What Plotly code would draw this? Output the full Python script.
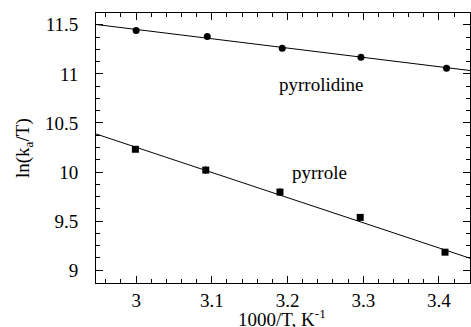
import plotly.graph_objects as go

# Data
pyrrolidine_x = [3.000, 3.094, 3.193, 3.297, 3.410]
pyrrolidine_y = [11.442, 11.381, 11.262, 11.170, 11.058]
pyrrolidine_err = [0.012, 0.012, 0.025, 0.025, 0.012]

pyrrole_x = [2.999, 3.092, 3.190, 3.296, 3.408]
pyrrole_y = [10.232, 10.020, 9.796, 9.538, 9.184]
pyrrole_err = [0.015, 0.04, 0.04, 0.015, 0.012]

fit_x = [2.947, 3.441]
pyrrolidine_fit_y = [11.503, 11.034]
pyrrole_fit_y = [10.388, 9.122]

x_ticks = [3.0, 3.1, 3.2, 3.3, 3.4]
x_ticklabels = ["3", "3.1", "3.2", "3.3", "3.4"]
y_ticks = [9, 9.5, 10, 10.5, 11, 11.5]
y_ticklabels = ["9", "9.5", "10", "10.5", "11", "11.5"]

FONT = "Liberation Serif"

fig = go.Figure()
fig.add_trace(go.Scatter(x=fit_x, y=pyrrolidine_fit_y, mode="lines",
                         line=dict(color="black", width=1), showlegend=False))
fig.add_trace(go.Scatter(x=fit_x, y=pyrrole_fit_y, mode="lines",
                         line=dict(color="black", width=1), showlegend=False))
fig.add_trace(go.Scatter(x=pyrrolidine_x, y=pyrrolidine_y, mode="markers",
                         marker=dict(symbol="circle", size=7, color="black"),
                         error_y=dict(type="data", array=pyrrolidine_err, color="black",
                                      thickness=1, width=0),
                         showlegend=False))
fig.add_trace(go.Scatter(x=pyrrole_x, y=pyrrole_y, mode="markers",
                         marker=dict(symbol="square", size=7, color="black"),
                         error_y=dict(type="data", array=pyrrole_err, color="black",
                                      thickness=1, width=0),
                         showlegend=False))

fig.add_annotation(x=3.244, y=10.888, text="pyrrolidine", showarrow=False,
                   font=dict(family=FONT, size=19, color="black"))
fig.add_annotation(x=3.242, y=9.993, text="pyrrole", showarrow=False,
                   font=dict(family=FONT, size=19, color="black"))

# axis titles
fig.add_annotation(text="1000/T, K<sup>-1</sup>", xref="paper", yref="paper",
                   x=(282 - 96) / 374, y=-(318 - 283) / 270, xanchor="center", yanchor="middle",
                   showarrow=False, font=dict(family=FONT, size=19, color="black"))
fig.add_annotation(text="ln(k<sub>a</sub>/T)", xref="paper", yref="paper",
                   x=-(96 - 24) / 374, y=(283 - 148) / 270, xanchor="center", yanchor="middle",
                   textangle=-90, showarrow=False,
                   font=dict(family=FONT, size=19, color="black"))

axis_common = dict(showline=True, linecolor="black", linewidth=1, mirror="ticks",
                   ticks="inside", ticklen=7, tickcolor="black", showgrid=False,
                   zeroline=False, automargin=False,
                   tickfont=dict(family=FONT, size=19, color="black"))

fig.update_xaxes(range=[2.947, 3.441], tickvals=x_ticks, ticktext=x_ticklabels,
                 minor=dict(dtick=0.02, ticks="inside", ticklen=4, tickcolor="black"),
                 ticklabelstandoff=0, **axis_common)
fig.update_yaxes(range=[8.87, 11.62], tickvals=y_ticks, ticktext=y_ticklabels,
                 minor=dict(dtick=0.125, ticks="inside", ticklen=4, tickcolor="black"),
                 ticklabelstandoff=13, **axis_common)

fig.update_layout(width=471, height=327, margin=dict(l=96, r=1, t=13, b=44),
                  paper_bgcolor="white", plot_bgcolor="white",
                  font=dict(family=FONT, color="black"))

fig.write_html("out.html", config={"displayModeBar": False},
               post_script="document.body.style.margin='0';")
